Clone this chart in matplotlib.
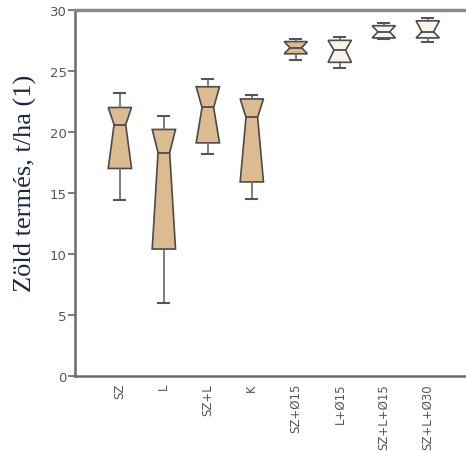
import numpy as np
import matplotlib
matplotlib.use("Agg")
import matplotlib.pyplot as plt

# treatments and box statistics (t/ha)
labels = ["SZ", "L", "SZ+L", "K", "SZ+Ø15", "L+Ø15", "SZ+L+Ø15", "SZ+L+Ø30"]
whis_lo = [14.4, 6.0, 18.2, 14.5, 25.9, 25.2, 27.6, 27.4]
q1 = [17.0, 10.4, 19.1, 15.9, 26.4, 25.7, 27.7, 27.7]
med = [20.6, 18.3, 22.0, 21.2, 26.9, 26.7, 28.2, 28.2]
q3 = [22.0, 20.2, 23.7, 22.7, 27.4, 27.5, 28.7, 29.1]
whis_hi = [23.2, 21.3, 24.3, 23.0, 27.6, 27.8, 28.9, 29.3]
fills = ["#dbbb8f"] * 5 + ["#fbf3e8"] * 3

stats = []
for i in range(len(labels)):
    stats.append(dict(label=labels[i], whislo=whis_lo[i], q1=q1[i], med=med[i],
                      q3=q3[i], whishi=whis_hi[i], cilo=q1[i], cihi=q3[i], fliers=[]))

fig = plt.figure(figsize=(4.66, 4.52), dpi=100)
ax = fig.add_axes([0.161, 0.166, 0.839, 0.81])

pos = np.arange(1, len(labels) + 1)
edge = "#4a4a4a"
bp = ax.bxp(stats, positions=pos, widths=0.53, shownotches=True, patch_artist=True,
            showfliers=False, capwidths=0.25,
            boxprops=dict(edgecolor=edge, linewidth=1.2),
            whiskerprops=dict(color="#666666", linewidth=1.2),
            capprops=dict(color="#555555", linewidth=1.5),
            medianprops=dict(color=edge, linewidth=1.3))

for box, c in zip(bp["boxes"], fills):
    box.set_facecolor(c)

ax.set_xlim(-0.02, 8.87)
ax.set_ylim(0, 30)
ax.set_yticks([0, 5, 10, 15, 20, 25, 30])
ax.set_xticks(pos)
ax.set_xticklabels(labels, rotation=90, fontsize=8.5, color="#555555")
ax.tick_params(axis="x", length=0, pad=5)
ax.tick_params(axis="y", length=5, width=1.2, color="#666666", labelsize=9.5,
               labelcolor="#555555", pad=1)

for s in ["left", "bottom"]:
    ax.spines[s].set_color("#6a6a6a")
    ax.spines[s].set_linewidth(1.8)
ax.spines["top"].set_color("#8a8a8a")
ax.spines["top"].set_linewidth(2.5)
ax.spines["right"].set_visible(False)

fig.text(0.054, 0.595, "Zöld termés, t/ha (1)", rotation=90, ha="center", va="center",
         family="Liberation Serif", fontsize=19, color="#1c2745")

fig.savefig("out.png", dpi=100)
